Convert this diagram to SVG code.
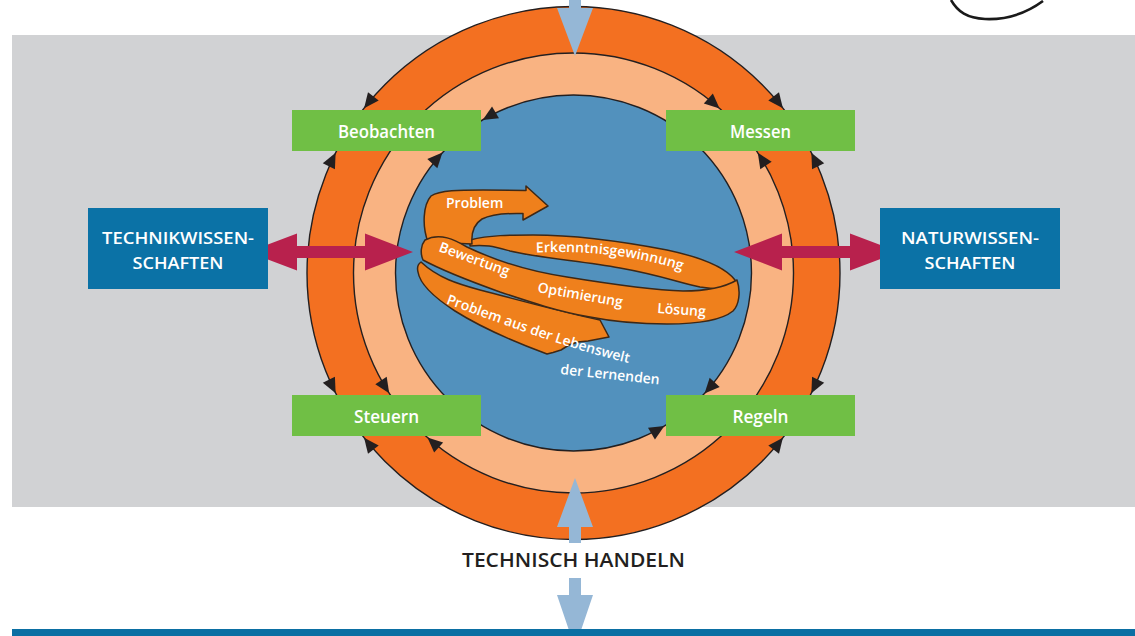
<svg xmlns="http://www.w3.org/2000/svg" xmlns:xlink="http://www.w3.org/1999/xlink" width="1135" height="636" viewBox="0 0 1135 636">
<defs>
<style>
.ring{stroke:#231f20;stroke-width:1.4}
.box{fill:#70bf45}
.bbox{fill:#0b72a6}
.lbl{font-family:"Open Sans","Noto Sans","Liberation Sans",sans-serif;font-weight:600;fill:#ffffff;text-anchor:middle}
.rib{fill:#ef801c;stroke:#3d2817;stroke-width:1.5;stroke-linejoin:round}
.rt{font-family:"Open Sans","Noto Sans","Liberation Sans",sans-serif;font-weight:600;fill:#ffffff;font-size:14px}
.red{fill:#b8214d}
.lb{fill:#95b7d6}
.ah{fill:#231f20}
</style>
<path id="ah" d="M0,0 L-15,-6.8 L-15,6.8 Z"/>
<path id="tp1" d="M536,252.5 Q618,249 684,271"/>
<path id="tp2" d="M446,303.5 C500,323 575,352 642,366"/>
</defs>
<rect x="0" y="0" width="1135" height="636" fill="#ffffff"/>
<g id="background">
<rect x="12" y="35" width="1123" height="472" fill="#d1d2d4"/>
<path d="M951,0 C958,12 967,18 985,19 C1008,20 1028,12 1043,1" fill="none" stroke="#1a1a1a" stroke-width="2.6"/>
</g>
<g id="rings">
<circle class="ring" cx="573.5" cy="273" r="266.5" fill="#f37021"/>
<circle class="ring" cx="573.5" cy="273" r="220" fill="#f9b382"/>
<circle class="ring" cx="573.5" cy="273" r="178" fill="#5291bd"/>
</g>
<g id="spiral">
<path class="rib" d="M421,262 C438,278 458,284 480,290 C530,303 570,314 600,320 L609,337 L588,341 L578,342 L569,345 L561,350 L553,352.5 L547,354 C520,344 485,330 455,311 C435,298 420,285 418,272 C417,268 418,264 421,262 Z"/>
<path class="rib" d="M470,240 C490,235 510,235 533,235 C570,235 620,241 667,250 C700,257 725,267 735,280 L737,290 C725,290 712,289 700,287 C680,283 660,275 620,268 C580,261 540,258 510,251 C495,247 485,244 470,246 Z"/>
<path class="rib" d="M428,242 C422,226 423,205 431,196 C440,190 460,190 483,190 L526,190.5 L526,186 L548,206 L523,220 L523,213.5 C505,213 490,215 482,219 C474,224 471,232 472,244 Z"/>
<path class="rib" d="M425,240 C440,232 455,240 467,247 C490,258 520,270 567,277 C610,284 650,290 683,291 C705,291 725,287 737,280 C741,292 739,305 733,311 C722,320 700,324 667,324 C640,324 610,321 590,317 C560,312 530,302 500,292 C475,283 445,272 423,260 C420,253 421,245 425,240 Z"/>
<text class="rt" x="446" y="208">Problem</text>
<text class="rt"><textPath href="#tp1" xlink:href="#tp1">Erkenntnisgewinnung</textPath></text>
<text class="rt" transform="translate(438,251) rotate(20)">Bewertung</text>
<text class="rt" transform="translate(537,292) rotate(10)">Optimierung</text>
<text class="rt" transform="translate(657,313) rotate(4)">Lösung</text>
<text class="rt"><textPath href="#tp2" xlink:href="#tp2">Problem aus der Lebenswelt</textPath></text>
<text class="rt" transform="translate(560,374) rotate(6)">der Lernenden</text>
</g>
<g id="connectors">
<g id="ring-arrowheads" class="ah">
<use href="#ah" xlink:href="#ah" transform="rotate(218.2 573.5 273) translate(840 273) rotate(-90)"/>
<use href="#ah" xlink:href="#ah" transform="rotate(206.8 573.5 273) translate(840 273) rotate(90)"/>
<use href="#ah" xlink:href="#ah" transform="rotate(153.2 573.5 273) translate(840 273) rotate(-90)"/>
<use href="#ah" xlink:href="#ah" transform="rotate(141.8 573.5 273) translate(840 273) rotate(90)"/>
<use href="#ah" xlink:href="#ah" transform="rotate(38.2 573.5 273) translate(840 273) rotate(-90)"/>
<use href="#ah" xlink:href="#ah" transform="rotate(26.8 573.5 273) translate(840 273) rotate(90)"/>
<use href="#ah" xlink:href="#ah" transform="rotate(333.2 573.5 273) translate(840 273) rotate(-90)"/>
<use href="#ah" xlink:href="#ah" transform="rotate(321.8 573.5 273) translate(840 273) rotate(90)"/>
<use href="#ah" xlink:href="#ah" transform="rotate(311.6 573.5 273) translate(793.5 273) rotate(90)"/>
<use href="#ah" xlink:href="#ah" transform="rotate(326.9 573.5 273) translate(793.5 273) rotate(-90)"/>
<use href="#ah" xlink:href="#ah" transform="rotate(146.9 573.5 273) translate(793.5 273) rotate(-90)"/>
<use href="#ah" xlink:href="#ah" transform="rotate(131.6 573.5 273) translate(793.5 273) rotate(90)"/>
<use href="#ah" xlink:href="#ah" transform="rotate(239.3 573.5 273) translate(751.5 273) rotate(-90)"/>
<use href="#ah" xlink:href="#ah" transform="rotate(222.6 573.5 273) translate(751.5 273) rotate(90)"/>
<use href="#ah" xlink:href="#ah" transform="rotate(42.6 573.5 273) translate(751.5 273) rotate(90)"/>
<use href="#ah" xlink:href="#ah" transform="rotate(59.3 573.5 273) translate(751.5 273) rotate(-90)"/>
</g>
<polygon id="arrow-left" class="red" points="248,252 297,233.5 297,246 365,246 365,233.5 413,252 365,270.5 365,258 297,258 297,270.5"/>
<polygon id="arrow-right" class="red" points="899,252 850,233.5 850,246 782,246 782,233.5 734,252 782,270.5 782,258 850,258 850,270.5"/>
<polygon id="arrow-top" class="lb" points="569,0 581,0 581,8 593,8 575,56 557,8 569,8"/>
<polygon id="arrow-bottom-up" class="lb" points="569,543 581,543 581,527 593,527 575,478 557,527 569,527"/>
<polygon id="arrow-bottom-down" class="lb" points="569,578 581,578 581,595 593,595 575,648 557,595 569,595"/>
</g>
<rect id="bottom-line" x="12" y="629" width="1123" height="7" fill="#0b6fa3"/>
<g id="node-beobachten">
<rect class="box" x="292" y="110" width="189" height="41"/>
<text class="lbl" x="386.5" y="137.5" font-size="18" textLength="97" lengthAdjust="spacingAndGlyphs">Beobachten</text>
</g>
<g id="node-messen">
<rect class="box" x="666" y="110" width="189" height="41"/>
<text class="lbl" x="760.5" y="137.5" font-size="18" textLength="61" lengthAdjust="spacingAndGlyphs">Messen</text>
</g>
<g id="node-steuern">
<rect class="box" x="292" y="395" width="189" height="41"/>
<text class="lbl" x="386.5" y="422.5" font-size="18" textLength="65" lengthAdjust="spacingAndGlyphs">Steuern</text>
</g>
<g id="node-regeln">
<rect class="box" x="666" y="395" width="189" height="41"/>
<text class="lbl" x="760.5" y="422.5" font-size="18" textLength="56" lengthAdjust="spacingAndGlyphs">Regeln</text>
</g>
<g id="node-technikwissenschaften">
<rect class="bbox" x="88" y="208" width="180" height="81"/>
<text class="lbl" x="178" y="243.5" font-size="16" textLength="152" lengthAdjust="spacingAndGlyphs">TECHNIKWISSEN-</text>
<text class="lbl" x="178" y="268.5" font-size="16" textLength="91" lengthAdjust="spacingAndGlyphs">SCHAFTEN</text>
</g>
<g id="node-naturwissenschaften">
<rect class="bbox" x="880" y="208" width="180" height="81"/>
<text class="lbl" x="970" y="243.5" font-size="16" textLength="138" lengthAdjust="spacingAndGlyphs">NATURWISSEN-</text>
<text class="lbl" x="970" y="268.5" font-size="16" textLength="91" lengthAdjust="spacingAndGlyphs">SCHAFTEN</text>
</g>
<g id="label-technisch-handeln">
<text x="573.5" y="567" font-family="'Open Sans','Noto Sans','Liberation Sans',sans-serif" font-weight="600" font-size="19" fill="#231f20" text-anchor="middle" textLength="223" lengthAdjust="spacingAndGlyphs">TECHNISCH HANDELN</text>
</g>
</svg>
